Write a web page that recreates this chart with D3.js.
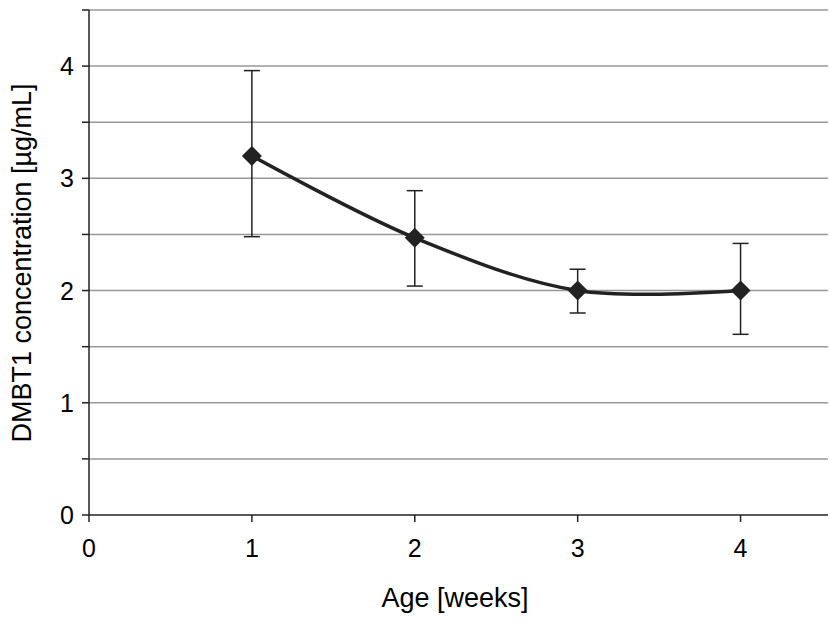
<!DOCTYPE html>
<html><head><meta charset="utf-8">
<script src="https://cdn.jsdelivr.net/npm/d3@7"></script>
<style>
body{margin:0;background:#fff;font-family:"Liberation Sans",Arial,sans-serif}
</style></head>
<body><div id="chart"></div>
<script>
const weeks = [1, 2, 3, 4]
const conc = [3.2, 2.47, 2.0, 2.0]
const errHi = [3.96, 2.89, 2.19, 2.42]
const errLo = [2.48, 2.04, 1.8, 1.61]
const xTicks = [0, 1, 2, 3, 4]
const yLabels = [0, 1, 2, 3, 4]

const w = 830, h = 639
const svg = d3.select('#chart').append('svg').attr('width', w).attr('height', h)

const x = d3.scaleLinear().domain([0, 4.5]).range([89, 822])
const y = d3.scaleLinear().domain([0, 4.5]).range([515, 10])

// grid every 0.5
const grid = d3.range(0.5, 4.51, 0.5)
svg.selectAll('.grid').data(grid).enter().append('line')
   .attr('x1', 89).attr('x2', 828)
   .attr('y1', d => y(d)).attr('y2', d => y(d))
   .attr('stroke', '#999').attr('stroke-width', 1.5)

// axes
svg.append('line').attr('x1', 89).attr('x2', 89).attr('y1', 10).attr('y2', 515)
   .attr('stroke', '#222').attr('stroke-width', 1.5)
svg.append('line').attr('x1', 89).attr('x2', 828).attr('y1', 515).attr('y2', 515)
   .attr('stroke', '#222').attr('stroke-width', 1.5)

const yA = d3.range(0, 4.51, 0.5)
svg.selectAll('.yt').data(yA).enter().append('line')
   .attr('x1', 82).attr('x2', 89).attr('y1', d => y(d)).attr('y2', d => y(d))
   .attr('stroke', '#222').attr('stroke-width', 1.5)
svg.selectAll('.yl').data(yLabels).enter().append('text')
   .attr('x', 74).attr('y', d => y(d) + 9).attr('text-anchor', 'end')
   .attr('font-size', 25).text(d => d)

svg.selectAll('.xt').data(xTicks).enter().append('line')
   .attr('x1', d => x(d)).attr('x2', d => x(d)).attr('y1', 515).attr('y2', 522)
   .attr('stroke', '#222').attr('stroke-width', 1.5)
svg.selectAll('.xl').data(xTicks).enter().append('text')
   .attr('x', d => x(d)).attr('y', 557).attr('text-anchor', 'middle')
   .attr('font-size', 25).text(d => d)

svg.append('text').attr('x', 455).attr('y', 607).attr('text-anchor', 'middle')
   .attr('font-size', 27).text('Age [weeks]')
svg.append('text').attr('transform', 'translate(31,263) rotate(-90)')
   .attr('text-anchor', 'middle').attr('font-size', 27).text('DMBT1 concentration [µg/mL]')

// error bars
weeks.forEach((wk, i) => {
  const g = svg.append('g').attr('stroke', '#222').attr('stroke-width', 1.5)
  g.append('line').attr('x1', x(wk)).attr('x2', x(wk)).attr('y1', y(errHi[i])).attr('y2', y(errLo[i]))
  g.append('line').attr('x1', x(wk) - 8).attr('x2', x(wk) + 8).attr('y1', y(errHi[i])).attr('y2', y(errHi[i]))
  g.append('line').attr('x1', x(wk) - 8).attr('x2', x(wk) + 8).attr('y1', y(errLo[i])).attr('y2', y(errLo[i]))
})

const line = d3.line().x((d, i) => x(weeks[i])).y(d => y(d)).curve(d3.curveCatmullRom.alpha(0.5))
svg.append('path').datum(conc).attr('d', line).attr('fill', 'none')
   .attr('stroke', '#222').attr('stroke-width', 3.5)

svg.selectAll('.pt').data(conc).enter().append('path')
   .attr('d', d3.symbol(d3.symbolSquare, 200))
   .attr('transform', (d, i) => 'translate(' + x(weeks[i]) + ',' + y(d) + ') rotate(45)')
   .attr('fill', '#222')
</script></body></html>
